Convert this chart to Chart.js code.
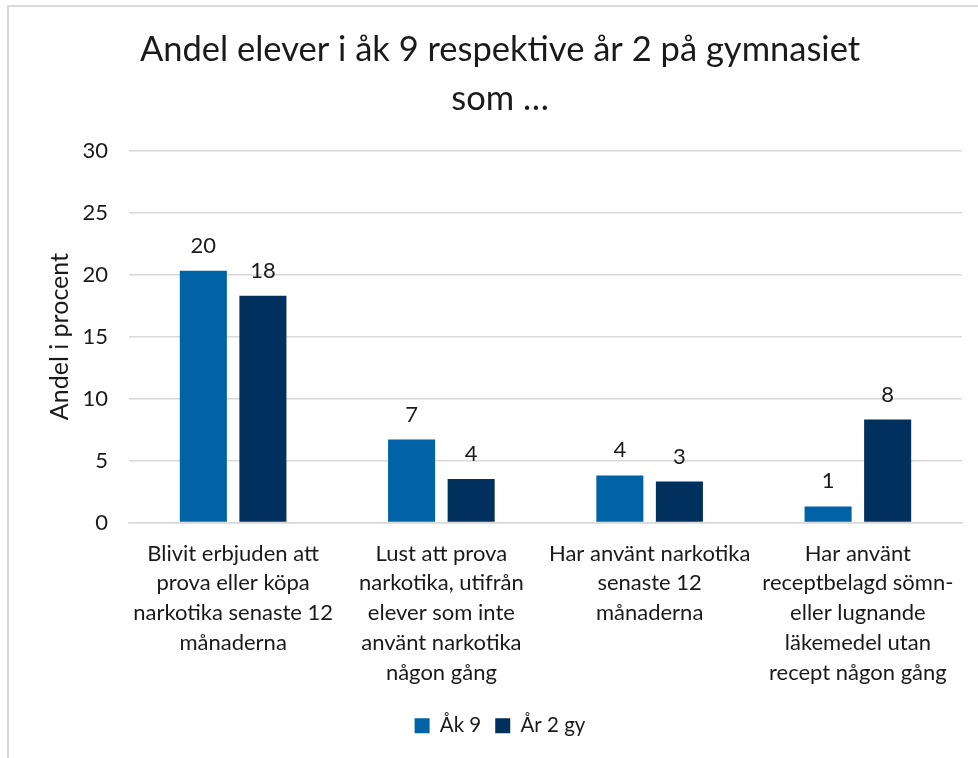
<!DOCTYPE html>
<html>
<head>
<meta charset="utf-8">
<script src="https://cdn.jsdelivr.net/npm/chart.js@4.4.1/dist/chart.umd.min.js"></script>
<style>
  html, body { margin: 0; padding: 0; background: #fff; overflow: hidden; }
  #wrap { position: relative; width: 978px; height: 758px; }
  #frame {
    position: absolute; left: 7px; top: 5px; width: 990px; height: 780px;
    border-left: 2px solid #dadada; border-top: 2px solid #dadada;
    pointer-events: none;
  }
  canvas { position: absolute; left: 0; top: 0; }
</style>
</head>
<body>
<div id="wrap">
  <canvas id="chart" width="978" height="758"></canvas>
  <div id="frame"></div>
</div>
<script>
// categories, one line per array entry
const categories = [
  ["Blivit erbjuden att", "prova eller köpa", "narkotika senaste 12", "månaderna"],
  ["Lust att prova", "narkotika, utifrån", "elever som inte", "använt narkotika", "någon gång"],
  ["Har använt narkotika", "senaste 12", "månaderna"],
  ["Har använt", "receptbelagd sömn-", "eller lugnande", "läkemedel utan", "recept någon gång"]
];
const ak9 = [20.3, 6.7, 3.8, 1.3];
const ar2gy = [18.3, 3.5, 3.3, 8.3];
const yTicks = [0, 5, 10, 15, 20, 25, 30];

const FONT = "Lato, 'Open Sans', sans-serif";
const TEXT = "#1a1a1a";

// values printed above each bar
const barLabels = {
  id: "barLabels",
  afterDatasetsDraw(chart) {
    const ctx = chart.ctx;
    ctx.save();
    ctx.font = "22px " + FONT;
    ctx.fillStyle = TEXT;
    ctx.textAlign = "center";
    ctx.textBaseline = "middle";
    chart.data.datasets.forEach((ds, i) => {
      chart.getDatasetMeta(i).data.forEach((bar, j) => {
        ctx.fillText(String(Math.round(ds.data[j])), bar.x, bar.y - 25);
      });
    });
    ctx.restore();
  }
};

new Chart(document.getElementById("chart"), {
  type: "bar",
  data: {
    labels: categories,
    datasets: [
      { label: "Åk 9", data: ak9, backgroundColor: "#0063A6" },
      { label: "År 2 gy", data: ar2gy, backgroundColor: "#00305E" }
    ]
  },
  options: {
    responsive: false,
    animation: false,
    datasets: { bar: { categoryPercentage: 0.572, barPercentage: 0.79 } },
    layout: { padding: { left: 38, right: 16, top: 26, bottom: 12 } },
    plugins: {
      title: {
        display: true,
        text: ["Andel elever i åk 9 respektive år 2 på gymnasiet", "som …"],
        color: TEXT,
        font: { family: FONT, size: 34.5, weight: "normal", lineHeight: 1.4 },
        padding: { top: 0, bottom: 28 }
      },
      legend: {
        position: "bottom",
        labels: {
          color: TEXT,
          boxWidth: 15, boxHeight: 15,
          font: { family: FONT, size: 20.5 },
          padding: 14
        }
      },
      tooltip: { enabled: false }
    },
    scales: {
      x: {
        afterFit(scale) { scale.height = 179; },
        grid: { display: false, drawTicks: false },
        border: { color: "#d9d9d9", width: 1.5 },
        ticks: {
          color: TEXT,
          maxRotation: 0, autoSkip: false,
          padding: 16,
          font: { family: FONT, size: 22, lineHeight: 1.36 }
        }
      },
      y: {
        min: 0, max: 30,
        afterBuildTicks(scale) { scale.ticks = yTicks.map(v => ({ value: v })); },
        afterFit(scale) { scale.width = 91; },
        grid: { color: "#d9d9d9", lineWidth: 1.5, drawTicks: false },
        border: { display: false },
        ticks: {
          color: TEXT,
          padding: 21,
          font: { family: FONT, size: 22 }
        },
        title: {
          display: true,
          text: "Andel i procent",
          color: TEXT,
          font: { family: FONT, size: 25 },
          padding: { top: 7, bottom: 0 }
        }
      }
    }
  },
  plugins: [barLabels]
});
</script>
</body>
</html>
